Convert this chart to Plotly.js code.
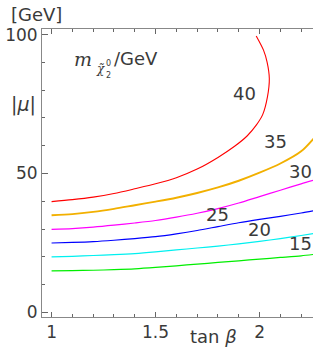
<!DOCTYPE html>
<html>
<head>
<meta charset="utf-8">
<script src="https://cdn.plot.ly/plotly-3.0.1.min.js"></script>
<style>html,body{margin:0;padding:0;background:#fff;}#plot{width:313px;height:347px;}</style>
</head>
<body>
<div id="plot"></div>
<script>
// tan(beta) grid for the lower contours
const tanb = [1.0, 1.1, 1.2, 1.3, 1.4, 1.5, 1.6, 1.7, 1.8, 1.9, 2.0, 2.1, 2.2, 2.26];
const mu15 = [15.0, 15.1, 15.2, 15.4, 15.7, 16.2, 16.8, 17.4, 18.0, 18.6, 19.2, 19.8, 20.4, 20.9];
const mu20 = [20.0, 20.2, 20.5, 20.8, 21.2, 21.8, 22.5, 23.2, 23.9, 24.7, 25.6, 26.6, 27.7, 28.4];
const mu25 = [25.0, 25.2, 25.5, 26.0, 26.6, 27.3, 28.3, 29.5, 30.9, 32.3, 33.5, 34.6, 35.8, 36.6];
const mu30 = [29.9, 30.2, 30.7, 31.4, 32.2, 33.1, 34.3, 35.7, 37.4, 39.4, 41.7, 44.0, 46.3, 47.6];
const mu35 = [35.0, 35.4, 36.2, 37.3, 38.6, 39.9, 41.3, 43.0, 45.0, 47.4, 50.3, 53.6, 58.0, 62.6];
// 40 GeV contour turns back
const tanb40 = [1.0, 1.1, 1.2, 1.3, 1.4, 1.5, 1.6, 1.7, 1.8, 1.88, 1.94, 1.985, 2.015, 2.038, 2.047, 2.036, 2.019, 1.984];
const mu40   = [39.9, 40.6, 41.5, 42.8, 44.5, 46.3, 48.5, 51.6, 55.8, 59.8, 63.5, 67.5, 71.2, 77.6, 84.2, 90.2, 94.4, 99.5];

const contourLabels = ['15', '20', '25', '30', '35', '40'];
const colors = ['#00ee00', '#00f0f0', '#0000ff', '#ff00ff', '#f2b000', '#ff0000'];
const xTickVals = [1, 1.5, 2];
const xTickText = ['1', '1.5', '2'];
const yTickVals = [0, 50, 100];
const yTickText = ['0', '50', '100'];

const series = [
  [tanb, mu15], [tanb, mu20], [tanb, mu25], [tanb, mu30], [tanb, mu35], [tanb40, mu40]
];
const widths = [1.2, 1.2, 1.2, 1.2, 1.9, 1.1];

const traces = series.map((s, i) => ({
  x: s[0], y: s[1], type: 'scatter', mode: 'lines',
  line: {color: colors[i], width: widths[i], shape: 'spline', smoothing: 0.8},
  hoverinfo: 'skip', showlegend: false
}));

// pixel helpers for text placement
const L = 42, W = 271, T = 29, H = 288;
const px = x => (x - L) / W;
const py = y => (T + H - y) / H;
const FONT = 'DejaVu Sans, sans-serif';
const TXT = '#3a3a3a';

function ann(text, x, y, size, extra) {
  return Object.assign({
    text: text, xref: 'paper', yref: 'paper', x: px(x), y: py(y),
    xanchor: 'center', yanchor: 'middle', showarrow: false,
    font: {family: FONT, size: size, color: TXT}
  }, extra || {});
}

const labelPos = [[300.5, 243], [259, 229], [217, 215], [300.3, 171], [275.5, 141], [244.5, 93]];
const annotations = contourLabels.map((t, i) => ann(t, labelPos[i][0], labelPos[i][1], 18));
annotations.push(ann('[GeV]', 36, 14, 18));
annotations.push(ann('|<i>μ</i>|', 23, 105, 19));
annotations.push(ann('tan <i>β</i>', 213, 336, 18));
annotations.push(ann('<i>m</i>', 83, 59, 19, {font: {family: 'DejaVu Serif, serif', size: 19, color: TXT}}));
annotations.push(ann('<i>χ̃</i>', 100, 69, 12, {font: {family: 'DejaVu Serif, serif', size: 12, color: TXT}}));
annotations.push(ann('0', 108.5, 63, 8));
annotations.push(ann('2', 108.5, 75, 8));
annotations.push(ann('/GeV', 136, 59, 18));

const axisCommon = {
  showgrid: false, zeroline: false, showline: true, linecolor: '#888', linewidth: 1,
  ticks: 'inside', tickcolor: '#666', tickwidth: 1,
  tickfont: {family: FONT, size: 17, color: TXT}
};

const layout = {
  width: 313, height: 347,
  margin: {l: L, r: 313 - L - W, t: T, b: 347 - T - H, pad: 0},
  paper_bgcolor: '#fff', plot_bgcolor: '#fff',
  xaxis: Object.assign({}, axisCommon, {
    range: [0.954, 2.257], mirror: 'ticks', tickmode: 'array',
    tickvals: xTickVals, ticktext: xTickText, ticklen: 5,
    minor: {dtick: 0.1, tick0: 0, ticks: 'inside', ticklen: 3, tickcolor: '#666', showgrid: false}
  }),
  yaxis: Object.assign({}, axisCommon, {
    range: [-1.62, 102], mirror: false, tickmode: 'array',
    tickvals: yTickVals, ticktext: yTickText, ticklen: 6,
    minor: {dtick: 10, tick0: 0, ticks: 'inside', ticklen: 3, tickcolor: '#666', showgrid: false}
  }),
  annotations: annotations
};

Plotly.newPlot('plot', traces, layout, {staticPlot: true, displayModeBar: false});
</script>
</body>
</html>
